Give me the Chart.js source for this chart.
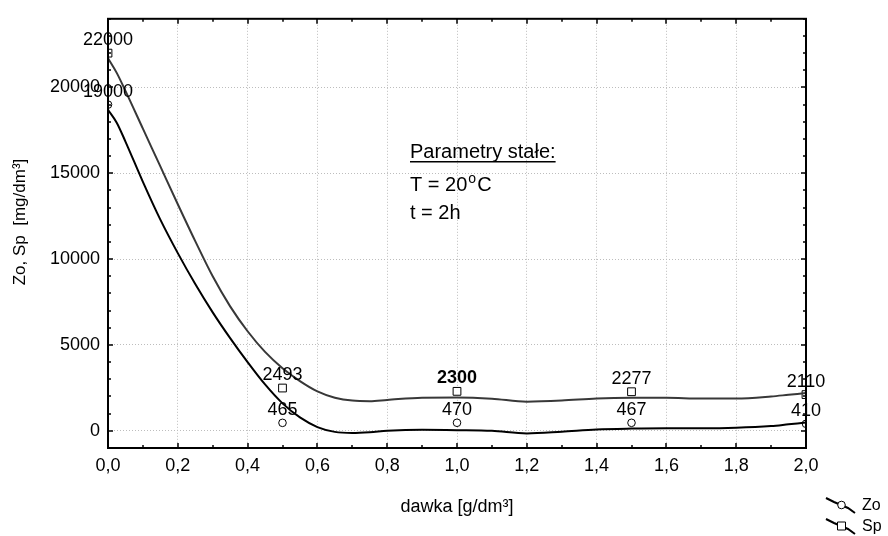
<!DOCTYPE html>
<html lang="pl">
  <head>
    <meta charset="UTF-8" />
    <style>
      html, body { margin: 0; padding: 0; background: #fff; }
      #wrap { width: 888px; height: 536px; position: relative; }
    </style>
    <title>dawka</title>
  </head>
  <body>
    <div id="wrap"><canvas id="graph"></canvas></div>

    <script src="https://cdn.jsdelivr.net/npm/chart.js"></script>
    <script>
      // measured points
      const doseX = [0, 0.5, 1.0, 1.5, 2.0];
      const zoValues = [19000, 465, 470, 467, 410];
      const spValues = [22000, 2493, 2300, 2277, 2110];

      // fitted curves
      const curveX = [0, 0.025, 0.05, 0.1, 0.15, 0.2, 0.25, 0.3, 0.35, 0.4, 0.45, 0.5, 0.55, 0.6, 0.65, 0.7, 0.75, 0.8, 0.9, 1.0, 1.1, 1.2, 1.3, 1.4, 1.5, 1.6, 1.7, 1.8, 1.9, 1.95, 2.0];
      const zoCurve = [18700, 17950, 16850, 14500, 12300, 10350, 8550, 6900, 5400, 4000, 2700, 1600, 780, 220, -60, -120, -80, 0, 60, 40, 0, -150, -50, 80, 130, 150, 150, 180, 280, 380, 480];
      const spCurve = [21700, 20850, 19800, 17600, 15400, 13200, 11050, 9000, 7250, 5800, 4600, 3650, 2900, 2300, 1930, 1760, 1730, 1800, 1930, 1940, 1870, 1700, 1760, 1880, 1920, 1920, 1880, 1880, 2000, 2100, 2200];

      const xTicks = [0, 0.2, 0.4, 0.6, 0.8, 1.0, 1.2, 1.4, 1.6, 1.8, 2.0];
      const yTicks = [0, 5000, 10000, 15000, 20000];
      const xMinor = 0.1;
      const yMinor = 1000;

      const FONT = "Arial, 'Liberation Sans', sans-serif";
      const toXY = (xs, ys) => xs.map((x, i) => ({ x: x, y: ys[i] }));

      const frame = {
        id: "frame",
        afterDraw(chart) {
          const { ctx, chartArea: a, scales } = chart;
          const sx = scales.x, sy = scales.y;
          ctx.save();
          ctx.strokeStyle = "#000";
          ctx.lineWidth = 2;
          ctx.strokeRect(a.left, a.top, a.right - a.left, a.bottom - a.top);
          // inward ticks on all four sides
          ctx.lineWidth = 1.5;
          ctx.beginPath();
          for (let v = 0; v <= 2.0001; v += xMinor) {
            const px = Math.round(sx.getPixelForValue(v));
            const major = Math.abs(v / 0.2 - Math.round(v / 0.2)) < 1e-6;
            const len = major ? 5 : 3;
            ctx.moveTo(px, a.bottom); ctx.lineTo(px, a.bottom - len);
            ctx.moveTo(px, a.top); ctx.lineTo(px, a.top + len);
          }
          for (let v = -1000; v <= 24000; v += yMinor) {
            const py = Math.round(sy.getPixelForValue(v));
            const len = v % 5000 === 0 ? 5 : 3;
            ctx.moveTo(a.left, py); ctx.lineTo(a.left + len, py);
            ctx.moveTo(a.right, py); ctx.lineTo(a.right - len, py);
          }
          ctx.stroke();

          // y axis title
          ctx.fillStyle = "#000";
          ctx.save();
          ctx.translate(20, 222);
          ctx.rotate(-Math.PI / 2);
          ctx.font = "17px " + FONT;
          ctx.textAlign = "center";
          ctx.textBaseline = "middle";
          ctx.fillText("Zo, Sp  [mg/dm³]", 0, 0);
          ctx.restore();

          // annotation
          ctx.font = "20px " + FONT;
          ctx.textBaseline = "alphabetic";
          ctx.textAlign = "left";
          const head = "Parametry stałe:";
          ctx.fillText(head, 410, 158);
          const w = ctx.measureText(head).width;
          ctx.fillRect(410, 161, w, 1.5);
          const t1 = "T = 20";
          ctx.fillText(t1, 410, 191);
          const w1 = ctx.measureText(t1).width;
          ctx.font = "14px " + FONT;
          ctx.fillText("o", 410 + w1 + 1, 183);
          ctx.font = "20px " + FONT;
          ctx.fillText("C", 410 + w1 + 10, 191);
          ctx.fillText("t = 2h", 410, 219);

          // legend
          const items = [
            { label: "Zo", style: "circle", y: 505 },
            { label: "Sp", style: "rect", y: 526 },
          ];
          items.forEach((it) => {
            ctx.strokeStyle = "#000";
            ctx.lineWidth = 2;
            ctx.beginPath();
            ctx.moveTo(826, it.y - 7);
            ctx.lineTo(834, it.y - 3);
            ctx.lineTo(848, it.y + 3);
            ctx.lineTo(855, it.y + 8);
            ctx.stroke();
            ctx.lineWidth = 1;
            ctx.fillStyle = "#fff";
            ctx.beginPath();
            if (it.style === "circle") ctx.arc(841.5, it.y, 3.8, 0, Math.PI * 2);
            else ctx.rect(837.5, it.y - 4, 8, 8);
            ctx.fill();
            ctx.stroke();
            ctx.fillStyle = "#000";
            ctx.font = "16px " + FONT;
            ctx.textBaseline = "middle";
            ctx.fillText(it.label, 862, it.y + 1);
          });
          ctx.restore();
        },
      };

      const pointLabels = {
        id: "pointLabels",
        afterDatasetsDraw(chart) {
          const ctx = chart.ctx;
          ctx.save();
          ctx.fillStyle = "#000";
          ctx.textAlign = "center";
          ctx.textBaseline = "alphabetic";
          [2, 3].forEach((di) => {
            const ds = chart.data.datasets[di];
            chart.getDatasetMeta(di).data.forEach((pt, i) => {
              const val = ds.data[i].y;
              ctx.font = (val === 2300 ? "bold " : "") + "18px " + FONT;
              ctx.fillText(String(val), pt.x, pt.y - 8);
            });
          });
          ctx.restore();
        },
      };

      new Chart(document.querySelector("#graph").getContext("2d"), {
        type: "line",
        data: {
          datasets: [
            {
              label: "Zo fit",
              data: toXY(curveX, zoCurve),
              borderColor: "#000",
              borderWidth: 2,
              pointRadius: 0,
              cubicInterpolationMode: "monotone",
              fill: false,
            },
            {
              label: "Sp fit",
              data: toXY(curveX, spCurve),
              borderColor: "#383838",
              borderWidth: 2,
              pointRadius: 0,
              cubicInterpolationMode: "monotone",
              fill: false,
            },
            {
              label: "Zo",
              data: toXY(doseX, zoValues),
              showLine: false,
              pointStyle: "circle",
              pointRadius: 3.8,
              pointBorderWidth: 1,
              pointBorderColor: "#000",
              pointBackgroundColor: "#fff",
              clip: 0,
            },
            {
              label: "Sp",
              data: toXY(doseX, spValues),
              showLine: false,
              pointStyle: "rect",
              pointRadius: 5.5,
              pointBorderWidth: 1,
              pointBorderColor: "#000",
              pointBackgroundColor: "#fff",
              clip: 0,
            },
          ],
        },
        options: {
          responsive: true,
          maintainAspectRatio: false,
          animation: false,
          layout: { padding: { left: 0, top: 14, right: 82, bottom: 0 } },
          plugins: { legend: { display: false }, tooltip: { enabled: false } },
          scales: {
            x: {
              type: "linear",
              min: 0,
              max: 2,
              afterBuildTicks: (s) => { s.ticks = xTicks.map((v) => ({ value: v })); },
              afterFit: (s) => { s.height = 88; },
              ticks: {
                color: "#000",
                font: { size: 18, family: FONT },
                padding: 7,
                maxRotation: 0,
                callback: (v) => Number(v).toFixed(1).replace(".", ","),
              },
              grid: { color: "#bdbdbd", drawTicks: false, lineWidth: 1 },
              border: { display: false, dash: [1, 2] },
              title: {
                display: true,
                text: "dawka [g/dm³]",
                color: "#000",
                font: { size: 18, family: FONT },
                padding: { top: 0, bottom: 18 },
              },
            },
            y: {
              type: "linear",
              min: -1000,
              max: 24000,
              afterBuildTicks: (s) => { s.ticks = yTicks.map((v) => ({ value: v })); },
              afterFit: (s) => { s.width = 108; },
              ticks: {
                color: "#000",
                font: { size: 18, family: FONT },
                padding: 8,
                callback: (v) => String(v),
              },
              grid: { color: "#bdbdbd", drawTicks: false, lineWidth: 1 },
              border: { display: false, dash: [1, 2] },
            },
          },
        },
        plugins: [pointLabels, frame],
      });
    </script>
  </body>
</html>
